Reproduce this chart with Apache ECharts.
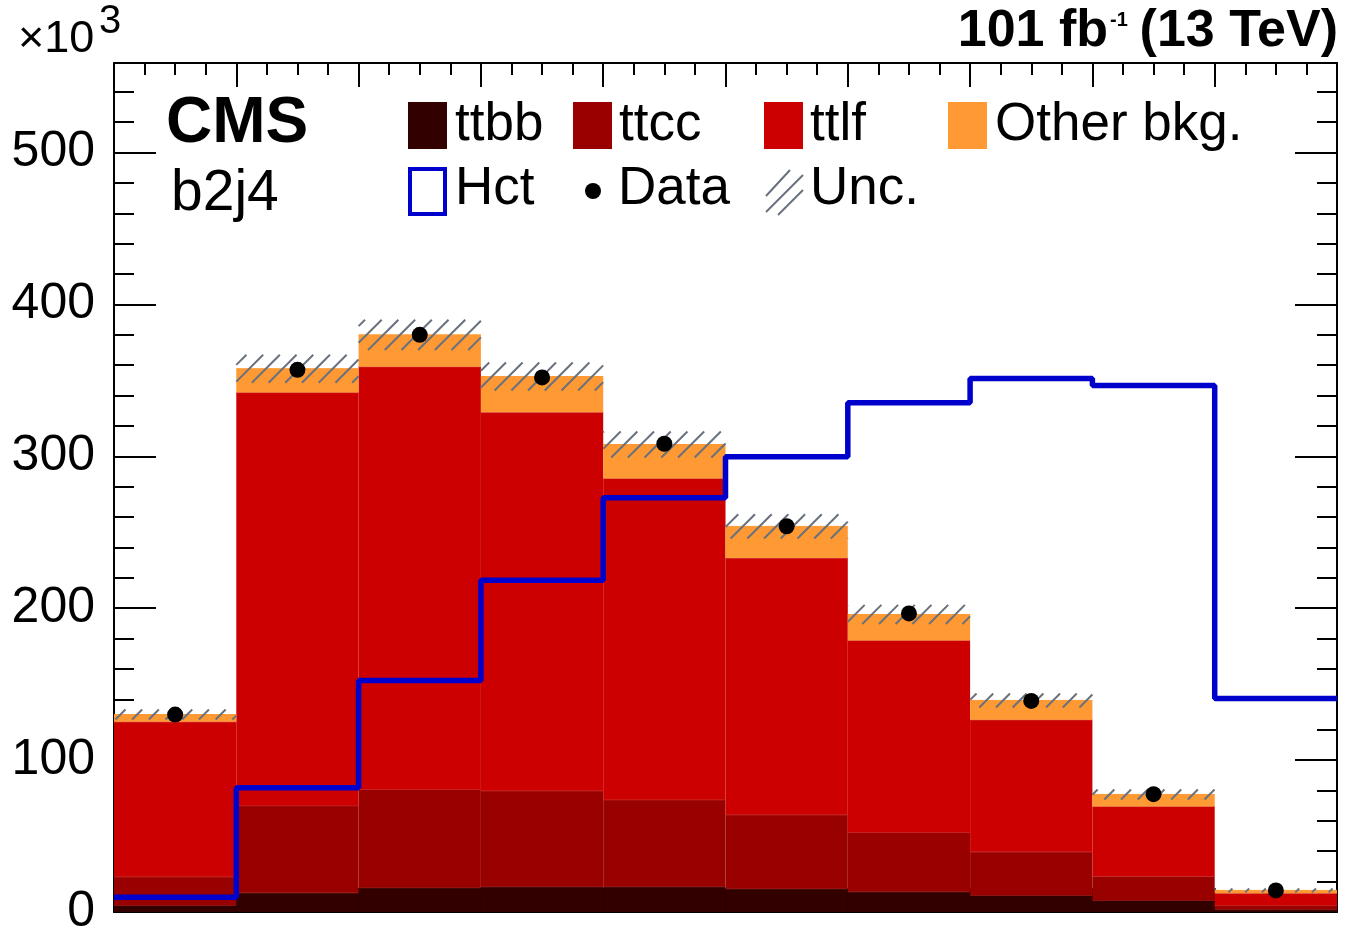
<!DOCTYPE html>
<html><head><meta charset="utf-8">
<script src="https://cdn.jsdelivr.net/npm/echarts@6/dist/echarts.min.js"></script>
<style>html,body{margin:0;padding:0;background:#fff}#c{width:1346px;height:930px}</style>
</head><body><div id="c"></div>
<script>
// bin edges (10 bins)
const binEdges = [0, 1, 2, 3, 4, 5, 6, 7, 8, 9, 10];
// stacked components (x10^3 events)
const ttbb  = [4.3, 12.6, 16.0, 16.6, 16.6, 15.3, 13.3, 10.9, 7.6, 1.6];
const ttcc  = [18.9, 57.4, 64.7, 63.2, 57.3, 48.7, 39.0, 28.7, 16.0, 2.7];
const ttlf  = [102.0, 272.0, 278.3, 249.2, 211.6, 169.0, 126.5, 86.9, 45.9, 8.1];
const other = [4.8, 15.7, 21.0, 23.6, 22.3, 20.9, 17.1, 12.8, 7.9, 1.8];
const unc   = [3.3, 9.2, 10.0, 9.2, 8.6, 8.0, 6.3, 4.6, 3.3, 1.3];
const dataPts = [130.0, 357.0, 380.0, 352.0, 308.3, 254.0, 196.6, 139.0, 77.6, 14.2];
const hct   = [9.7, 81.8, 152.5, 218.5, 272.7, 299.7, 335.3, 351.3, 346.7, 140.6];
const yTicks = [0, 100, 200, 300, 400, 500];

const FONT = '"Liberation Sans", Arial, Helvetica, sans-serif';
const chart = echarts.init(document.getElementById('c'), null, {renderer: 'canvas'});

const comps = [
  {name: 'ttbb', v: ttbb, color: '#330000', edge: '#7a2626'},
  {name: 'ttcc', v: ttcc, color: '#990000', edge: '#c23a3a'},
  {name: 'ttlf', v: ttlf, color: '#cc0000', edge: '#d84a4a'},
  {name: 'Other bkg.', v: other, color: '#ff9933', edge: '#ff9933'}
];

const series = [];
const base = new Array(10).fill(0);
comps.forEach((c, k) => {
  const d = c.v.map((val, i) => [binEdges[i], binEdges[i + 1], base[i], base[i] + val]);
  c.v.forEach((val, i) => base[i] += val);
  series.push({
    type: 'custom', name: c.name, xAxisIndex: 0, yAxisIndex: 0, z: 2 + k,
    data: d, encode: {x: [0, 1], y: [2, 3]}, silent: true,
    renderItem: (params, api) => {
      const p0 = api.coord([api.value(0), api.value(3)]);
      const p1 = api.coord([api.value(1), api.value(2)]);
      return {type: 'group', children: [
        {type: 'rect', shape: {x: p0[0], y: p0[1], width: p1[0] - p0[0], height: p1[1] - p0[1]}, style: {fill: c.color}},
        {type: 'line', shape: {x1: p0[0], y1: p0[1], x2: p1[0], y2: p0[1]}, style: {stroke: c.edge, lineWidth: 1}}
      ]};
    }
  });
});
const total = base.slice();

// uncertainty hatch
series.push({
  type: 'custom', name: 'Unc.', xAxisIndex: 0, yAxisIndex: 0, z: 8, silent: true,
  data: total.map((t, i) => [binEdges[i], binEdges[i + 1], t - unc[i], t + unc[i]]),
  encode: {x: [0, 1], y: [2, 3]},
  renderItem: (params, api) => {
    const a = api.coord([api.value(0), api.value(3)]);
    const b = api.coord([api.value(1), api.value(2)]);
    const x0 = a[0], y0 = a[1], x1 = b[0], y1 = b[1];
    const step = 16.7;
    const children = [];
    for (let c = Math.ceil((x0 + y0) / step) * step; c <= x1 + y1; c += step) {
      const xa = Math.max(x0, c - y1), xb = Math.min(x1, c - y0);
      if (xb > xa) children.push({type: 'line', shape: {x1: xa, y1: c - xa, x2: xb, y2: c - xb},
        style: {stroke: '#68717d', lineWidth: 2}});
    }
    return {type: 'group', children};
  }
});

// Hct signal step line
series.push({
  type: 'line', name: 'Hct', xAxisIndex: 0, yAxisIndex: 0, z: 9, step: 'end', silent: true,
  symbol: 'none', lineStyle: {color: '#0000cc', width: 5.5}, clip: false,
  data: binEdges.map((e, i) => [e, hct[Math.min(i, hct.length - 1)]])
});

// data points
series.push({
  type: 'scatter', name: 'Data', xAxisIndex: 0, yAxisIndex: 0, z: 10, silent: true,
  symbol: 'circle', symbolSize: 16, itemStyle: {color: '#000', opacity: 1},
  data: dataPts.map((v, i) => [(binEdges[i] + binEdges[i + 1]) / 2, v])
});

const axLine = {show: true, onZero: false, lineStyle: {color: '#000', width: 2}};
const tickStyle = {color: '#000', width: 2};
function xAx(pos) {
  return {type: 'value', position: pos, min: 0, max: 10, interval: 1,
    axisLine: axLine, axisTick: {show: true, inside: true, length: 24, lineStyle: tickStyle},
    minorTick: {show: true, splitNumber: 4, length: 12, lineStyle: tickStyle},
    axisLabel: {show: false}, splitLine: {show: false}, minorSplitLine: {show: false}};
}
function yAx(pos, major, label) {
  return {type: 'value', position: pos, min: 0, max: 559, interval: major ? 100 : 20,
    axisLine: major ? axLine : {show: false, onZero: false},
    axisTick: {show: true, inside: true, length: major ? 42 : 20, lineStyle: tickStyle},
    axisLabel: label ? {show: true, showMaxLabel: false, color: '#000', fontSize: 50, fontFamily: FONT, margin: 19,
      formatter: v => (yTicks.indexOf(v) >= 0 ? String(v) : '')} : {show: false},
    splitLine: {show: false}};
}

const T = (text, x, y, size, opts) => ({
  type: 'text', z: 100, silent: true,
  style: Object.assign({text, x, y, font: (opts && opts.bold ? 'bold ' : '') + size + 'px ' + FONT,
    fill: '#000', verticalAlign: 'middle', align: 'left'}, opts && opts.style)
});

const legendBoxes = [
  {x: 408, color: '#330000', label: 'ttbb', tx: 455},
  {x: 573, color: '#990000', label: 'ttcc', tx: 619},
  {x: 764, color: '#cc0000', label: 'ttlf', tx: 810},
  {x: 948, color: '#ff9933', label: 'Other bkg.', tx: 995}
];
const graphics = [];
legendBoxes.forEach(b => {
  graphics.push({type: 'rect', z: 100, silent: true, shape: {x: b.x, y: 102, width: 39, height: 47}, style: {fill: b.color}});
  graphics.push(T(b.label, b.tx, 125, 53));
});
graphics.push({type: 'rect', z: 100, silent: true, shape: {x: 410, y: 169, width: 35, height: 45}, style: {fill: 'none', stroke: '#0000cc', lineWidth: 4}});
graphics.push(T('Hct', 455, 189, 53));
graphics.push({type: 'circle', z: 100, silent: true, shape: {cx: 593, cy: 191, r: 8}, style: {fill: '#000'}});
graphics.push(T('Data', 618, 189, 53));
[[766, 196, 790, 170], [766, 212, 803, 175], [778, 215, 803, 190]].forEach(l => {
  graphics.push({type: 'line', z: 100, silent: true, shape: {x1: l[0], y1: l[1], x2: l[2], y2: l[3]}, style: {stroke: '#68717d', lineWidth: 2}});
});
graphics.push(T('Unc.', 810, 189, 53));
graphics.push(T('CMS', 166, 124, 64, {bold: true}));
graphics.push(T('b2j4', 171, 194, 57));
graphics.push(T('\u00d710', 18, 40, 45));
graphics.push(T('3', 99, 22, 40));
graphics.push(T('101 fb', 1108, 32, 52, {bold: true, style: {align: 'right'}}));
graphics.push(T('-1', 1110, 20, 20, {bold: true}));
graphics.push(T('(13 TeV)', 1338, 32, 52, {bold: true, style: {align: 'right'}}));

chart.setOption({
  animation: false,
  backgroundColor: '#fff',
  grid: {left: 114, right: 9, top: 63, bottom: 18, containLabel: false, outerBoundsMode: 'none'},
  xAxis: [xAx('bottom'), xAx('top')],
  yAxis: [yAx('left', true, true), yAx('right', true, false), yAx('left', false, false), yAx('right', false, false)],
  series,
  graphic: graphics
});
</script></body></html>
